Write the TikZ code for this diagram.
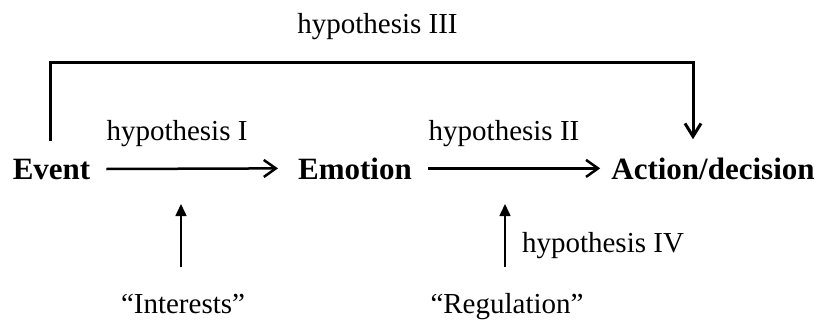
\documentclass[tikz,border=0pt]{standalone}
\usepackage{fontspec}
\setmainfont{Liberation Serif}
\usetikzlibrary{arrows.meta}
\tikzset{
  bigtext/.style={inner sep=0pt, anchor=base, font=\fontsize{31}{36}\selectfont\bfseries},
  hyptext/.style={inner sep=0pt, anchor=base, font=\fontsize{29}{34}\selectfont},
  mainarrow/.style={line width=2.5pt, -{Straight Barb[length=12pt,width=17pt]}},
  uparrow/.style={line width=1.5pt, -{Triangle[length=12pt,width=11pt]}},
  bracketarrow/.style={line width=3pt, -{Straight Barb[length=13pt,width=16pt]}},
}
\begin{document}
\begin{tikzpicture}[x=1pt,y=1pt]
\useasboundingbox (0,0) rectangle (824,327);
\node[bigtext] (event) at (51.5,148) {Event};
\node[bigtext] (emotion) at (355,148) {Emotion};
\node[bigtext] (action) at (713,148) {Action/decision};
\node[hyptext] (h1) at (177,186) {hypothesis I};
\node[hyptext] (h2) at (504,186) {hypothesis II};
\node[hyptext] (h3) at (377.5,293) {hypothesis III};
\node[hyptext] (h4) at (603,75) {hypothesis IV};
\node[hyptext] (interests) at (183,14) {“Interests”};
\node[hyptext] (regulation) at (507,14) {“Regulation”};
\coordinate (ia) at (181,123);
\coordinate (ra) at (505,123);
\coordinate (tl) at (50,264);
\coordinate (tr) at (693,264);
\draw[mainarrow] ([xshift=16pt]event.east) -- ([xshift=-20pt]emotion.west);
\draw[mainarrow] ([xshift=16pt]emotion.east) -- ([xshift=-11pt]emotion.east -| action.west);
\draw[uparrow] (interests.north -| ia) ++(0,26) coordinate (ib) -- (ia);
\draw[uparrow] (regulation.north -| ra) ++(0,26) coordinate (rb) -- (ra);
\draw[bracketarrow] (event.north -| tl) ++(0,18) -- (tl) -- (tr) -- ([yshift=18pt]action.north -| tr);
\end{tikzpicture}
\end{document}
